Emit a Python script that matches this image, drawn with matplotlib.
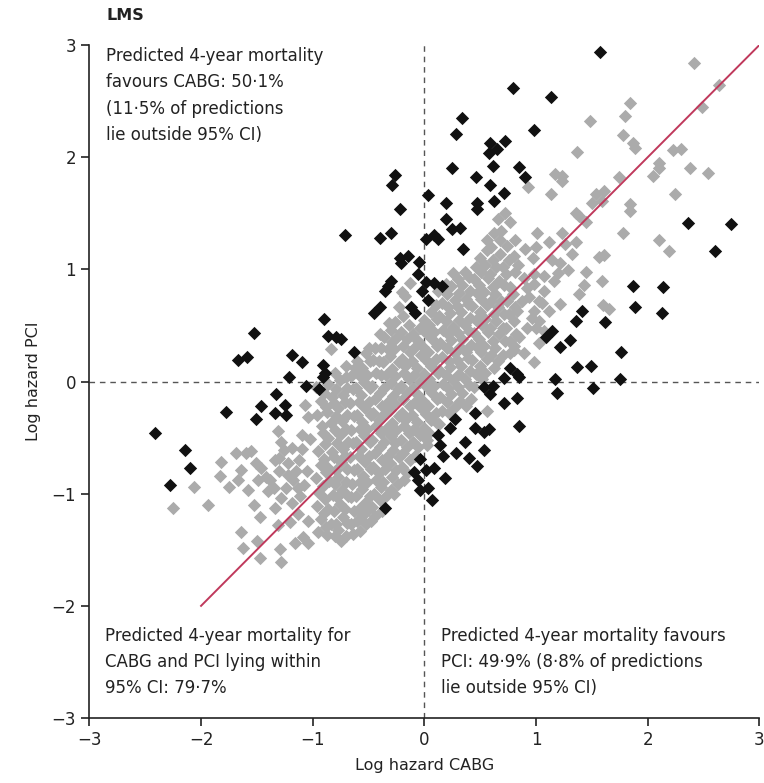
import numpy as np
import matplotlib
matplotlib.use("Agg")
import matplotlib.pyplot as plt

# predictions inside the 95% CI (grey)
grey_pts = [
    # lower-left tail
    (-2.25, -1.13), (-2.06, -0.94), (-1.94, -1.10), (-1.82, -0.72), (-1.83, -0.84),
    (-1.75, -0.94), (-1.69, -0.64), (-1.60, -0.64), (-1.64, -0.79), (-1.67, -0.88),
    (-1.51, -0.73), (-1.46, -0.77), (-1.42, -0.85), (-1.49, -0.88), (-1.38, -0.88),
    (-1.58, -0.97), (-1.64, -1.34), (-1.62, -1.48), (-1.50, -1.42), (-1.47, -1.57),
    (-1.29, -1.49), (-1.28, -1.61), (-1.53, -1.10), (-1.47, -1.21), (-1.34, -1.13),
    (-1.31, -0.44), (-1.28, -0.54), (-1.26, -0.61), (-1.19, -0.59), (-1.22, -0.73),
    (-1.18, -0.88), (-1.24, -0.95), (-1.11, -1.02), (-1.28, -1.04), (-1.19, -1.08),
    (-1.07, -0.21), (-1.04, -0.32), (-1.10, -0.48), (-1.02, -0.51), (-1.13, -1.18),
    (-1.04, -1.24), (-1.09, -1.39), (-1.16, -1.44), (-1.04, -1.44), (-1.12, -0.70),
    (-1.05, -0.80), (-1.08, -0.92), (-1.34, -0.70), (-1.40, -0.98), (-1.30, -0.80),
    (-1.30, -0.68), (-1.15, -0.80), (-1.13, -0.95), (-1.22, -0.83), (-1.35, -0.95),
    (-1.55, -0.62), (-1.20, -1.25), (-1.31, -1.28), (-1.10, -0.60),
    # dense centre
    (-0.97, -0.05), (-0.93, -0.17), (-0.96, -0.30), (-0.92, -0.40), (-0.95, -0.62),
    (-0.93, -0.74), (-0.97, -0.86), (-0.94, -0.99), (-0.96, -1.11), (-0.93, -1.23),
    (-0.95, -1.34),
    (-0.90, -0.10), (-0.88, -0.23), (-0.91, -0.46), (-0.89, -0.56), (-0.90, -0.69),
    (-0.88, -0.81), (-0.91, -0.93), (-0.89, -1.05), (-0.90, -1.17), (-0.88, -1.30),
    (-0.84, 0.29), (-0.86, -0.02), (-0.83, -0.14), (-0.87, -0.27), (-0.84, -0.37),
    (-0.86, -0.50), (-0.83, -0.63), (-0.87, -0.76), (-0.85, -0.89), (-0.82, -1.01),
    (-0.86, -1.14), (-0.84, -1.27), (-0.87, -1.37),
    (-0.80, 0.08), (-0.79, -0.07), (-0.81, -0.19), (-0.79, -0.31), (-0.80, -0.43),
    (-0.78, -0.55), (-0.81, -0.67), (-0.79, -0.79), (-0.80, -0.91), (-0.78, -1.03),
    (-0.81, -1.15), (-0.79, -1.27), (-0.80, -1.38),
    (-0.70, 0.14), (-0.76, 0.01), (-0.73, -0.12), (-0.77, -0.24), (-0.74, -0.35),
    (-0.76, -0.48), (-0.73, -0.60), (-0.75, -0.72), (-0.77, -0.85), (-0.74, -0.97),
    (-0.76, -1.09), (-0.73, -1.21), (-0.77, -1.32), (-0.75, -1.42),
    (-0.70, 0.04), (-0.69, -0.06), (-0.71, -0.18), (-0.69, -0.30), (-0.70, -0.42),
    (-0.68, -0.54), (-0.71, -0.66), (-0.69, -0.78), (-0.70, -0.90), (-0.68, -1.02),
    (-0.71, -1.14), (-0.69, -1.26), (-0.70, -1.38),
    (-0.62, 0.12), (-0.66, 0.05), (-0.64, -0.07), (-0.67, -0.19), (-0.63, -0.31),
    (-0.66, -0.43), (-0.64, -0.55), (-0.67, -0.67), (-0.63, -0.79), (-0.65, -0.91),
    (-0.66, -1.03), (-0.63, -1.15), (-0.66, -1.27), (-0.64, -1.36),
    (-0.60, 0.18), (-0.59, 0.06), (-0.61, -0.06), (-0.59, -0.18), (-0.60, -0.30),
    (-0.58, -0.42), (-0.61, -0.54), (-0.59, -0.66), (-0.60, -0.78), (-0.58, -0.90),
    (-0.61, -1.02), (-0.59, -1.14), (-0.60, -1.24), (-0.58, -1.33),
    (-0.52, 0.25), (-0.56, 0.12), (-0.54, 0.00), (-0.57, -0.12), (-0.53, -0.24),
    (-0.56, -0.36), (-0.54, -0.48), (-0.57, -0.60), (-0.53, -0.72), (-0.55, -0.84),
    (-0.56, -0.96), (-0.53, -1.08), (-0.55, -1.19), (-0.52, -1.27),
    (-0.50, 0.30), (-0.49, 0.18), (-0.51, 0.06), (-0.49, -0.06), (-0.50, -0.18),
    (-0.48, -0.30), (-0.51, -0.42), (-0.49, -0.54), (-0.50, -0.66), (-0.48, -0.78),
    (-0.51, -0.90), (-0.49, -1.02), (-0.50, -1.14), (-0.48, -1.24),
    (-0.44, 0.30), (-0.46, 0.19), (-0.43, 0.08), (-0.47, -0.04), (-0.44, -0.16),
    (-0.46, -0.28), (-0.43, -0.40), (-0.47, -0.52), (-0.44, -0.64), (-0.46, -0.76),
    (-0.43, -0.88), (-0.45, -1.00), (-0.47, -1.12), (-0.44, -1.20),
    (-0.40, 0.42), (-0.39, 0.30), (-0.41, 0.18), (-0.39, 0.06), (-0.40, -0.10),
    (-0.38, -0.22), (-0.41, -0.34), (-0.39, -0.46), (-0.40, -0.58), (-0.38, -0.70),
    (-0.41, -0.82), (-0.39, -0.94), (-0.40, -1.06), (-0.38, -1.15),
    (-0.32, 0.52), (-0.36, 0.40), (-0.33, 0.29), (-0.37, 0.17), (-0.34, 0.06),
    (-0.36, -0.06), (-0.33, -0.18), (-0.37, -0.30), (-0.34, -0.42), (-0.36, -0.54),
    (-0.33, -0.66), (-0.35, -0.78), (-0.37, -0.90), (-0.34, -1.02),
    (-0.30, 0.46), (-0.29, 0.35), (-0.31, 0.23), (-0.29, 0.11), (-0.30, -0.01),
    (-0.28, -0.13), (-0.31, -0.25), (-0.29, -0.37), (-0.30, -0.49), (-0.28, -0.61),
    (-0.31, -0.73), (-0.29, -0.85), (-0.30, -0.97),
    (-0.23, 0.66), (-0.26, 0.53), (-0.24, 0.41), (-0.27, 0.29), (-0.23, 0.17),
    (-0.26, 0.05), (-0.24, -0.07), (-0.27, -0.19), (-0.23, -0.31), (-0.25, -0.43),
    (-0.26, -0.55), (-0.23, -0.67), (-0.25, -0.79), (-0.24, -0.91), (-0.27, -1.00),
    (-0.20, 0.80), (-0.19, 0.58), (-0.21, 0.44), (-0.19, 0.32), (-0.20, 0.20),
    (-0.18, 0.08), (-0.21, -0.04), (-0.19, -0.16), (-0.20, -0.28), (-0.18, -0.40),
    (-0.21, -0.52), (-0.19, -0.64), (-0.20, -0.76), (-0.18, -0.88),
    (-0.13, 0.88), (-0.17, 0.76), (-0.14, 0.50), (-0.16, 0.38), (-0.13, 0.26),
    (-0.17, 0.14), (-0.14, 0.02), (-0.16, -0.10), (-0.13, -0.22), (-0.17, -0.34),
    (-0.14, -0.46), (-0.16, -0.58), (-0.13, -0.70), (-0.16, -0.82),
    (-0.10, 0.42), (-0.09, 0.30), (-0.11, 0.18), (-0.09, 0.06), (-0.10, -0.06),
    (-0.08, -0.18), (-0.11, -0.30), (-0.09, -0.42), (-0.10, -0.54), (-0.08, -0.66),
    (-0.04, 0.48), (-0.06, 0.36), (-0.03, 0.24), (-0.07, 0.12), (-0.04, 0.00),
    (-0.06, -0.12), (-0.03, -0.24), (-0.07, -0.36), (-0.04, -0.48), (-0.06, -0.58),
    (0.00, 0.55), (0.01, 0.43), (-0.01, 0.31), (0.01, 0.19), (0.00, 0.07),
    (0.02, -0.05), (-0.01, -0.17), (0.01, -0.29), (0.00, -0.41), (0.02, -0.52),
    (0.06, 0.62), (0.04, 0.50), (0.07, 0.38), (0.03, 0.26), (0.06, 0.14),
    (0.04, 0.02), (0.07, -0.10), (0.03, -0.22), (0.06, -0.34), (0.04, -0.46),
    (0.02, -0.57),
    (0.10, 0.68), (0.11, 0.56), (0.09, 0.44), (0.11, 0.32), (0.10, 0.20),
    (0.12, 0.08), (0.09, -0.04), (0.11, -0.16), (0.10, -0.28), (0.12, -0.38),
    (0.19, 0.87), (0.12, 0.81), (0.16, 0.70), (0.13, 0.58), (0.17, 0.46),
    (0.14, 0.34), (0.16, 0.22), (0.13, 0.10), (0.17, -0.02), (0.14, -0.14),
    (0.16, -0.26), (0.13, -0.38),
    (0.20, 0.78), (0.21, 0.66), (0.19, 0.54), (0.21, 0.42), (0.20, 0.30),
    (0.22, 0.18), (0.19, 0.06), (0.21, -0.06), (0.20, -0.18), (0.22, -0.28),
    (0.26, 0.97), (0.24, 0.85), (0.27, 0.73), (0.23, 0.61), (0.26, 0.49),
    (0.24, 0.37), (0.27, 0.25), (0.23, 0.13), (0.26, 0.01), (0.24, -0.11),
    (0.27, -0.23),
    (0.30, 0.91), (0.31, 0.79), (0.29, 0.67), (0.31, 0.55), (0.30, 0.43),
    (0.32, 0.31), (0.29, 0.19), (0.31, 0.07), (0.30, -0.05), (0.32, -0.17),
    (0.36, 0.98), (0.34, 0.86), (0.37, 0.74), (0.33, 0.62), (0.36, 0.50),
    (0.34, 0.38), (0.37, 0.26), (0.33, 0.14), (0.36, 0.02), (0.34, -0.10),
    (0.37, -0.22),
    (0.40, 0.93), (0.41, 0.81), (0.39, 0.69), (0.41, 0.57), (0.40, 0.45),
    (0.42, 0.33), (0.39, 0.21), (0.41, 0.09), (0.40, -0.03),
    (0.46, 1.02), (0.44, 0.91), (0.47, 0.79), (0.43, 0.67), (0.46, 0.55),
    (0.44, 0.43), (0.47, 0.31), (0.43, 0.19), (0.46, 0.07), (0.44, -0.05),
    (0.42, -0.16),
    (0.50, 1.10), (0.51, 0.98), (0.49, 0.86), (0.51, 0.74), (0.50, 0.62),
    (0.52, 0.50), (0.49, 0.38), (0.51, 0.26), (0.50, 0.14), (0.52, 0.02),
    (0.56, 1.26), (0.56, 1.17), (0.54, 1.04), (0.57, 0.92), (0.53, 0.80),
    (0.56, 0.68), (0.54, 0.56), (0.57, 0.44), (0.53, 0.32), (0.56, 0.20),
    (0.54, 0.08), (0.56, -0.26),
    (0.60, 1.20), (0.61, 1.08), (0.59, 0.96), (0.61, 0.84), (0.60, 0.72),
    (0.62, 0.60), (0.59, 0.48), (0.61, 0.36), (0.60, 0.24), (0.62, 0.12),
    (0.62, 1.32), (0.69, 1.34), (0.68, 1.26), (0.68, 1.14), (0.64, 1.02),
    (0.67, 0.90), (0.63, 0.78), (0.66, 0.66), (0.64, 0.54), (0.67, 0.42),
    (0.63, 0.30), (0.66, 0.18), (0.66, 1.45),
    (0.70, 1.02), (0.71, 0.86), (0.69, 0.72), (0.71, 0.60), (0.70, 0.48),
    (0.72, 0.36), (0.70, 0.24),
    (0.72, 1.50), (0.77, 1.42), (0.74, 1.21), (0.76, 1.08), (0.73, 0.96),
    (0.77, 0.84), (0.74, 0.72), (0.76, 0.60), (0.73, 0.48), (0.77, 0.36),
    (0.77, 0.25),
    (0.80, 1.12), (0.81, 0.98), (0.79, 0.78), (0.81, 0.66), (0.80, 0.54),
    (0.82, 0.42), (0.80, 0.32),
    (0.81, 1.26), (0.90, 1.18), (0.89, 0.92), (0.84, 1.04), (0.92, 0.83),
    (0.87, 0.72), (0.94, 0.75), (0.83, 0.63), (0.96, 0.57), (0.92, 0.48),
    (0.85, 0.40), (0.89, 0.25), (0.80, 0.28), (0.93, 1.73),
    (0.98, 0.96), (1.01, 1.32), (0.98, 0.87), (0.98, 0.63), (1.00, 0.48),
    (1.03, 0.34), (0.98, 0.17), (1.03, 0.72), (1.07, 0.81), (1.07, 0.94),
    (1.05, 0.70), (1.03, 0.54), (1.07, 0.45), (0.97, 1.10), (1.00, 1.20),
    # sparse upper right
    (1.12, 1.24), (1.23, 1.32), (1.26, 1.23), (1.36, 1.24), (1.32, 1.14),
    (1.14, 1.08), (1.21, 1.06), (1.29, 0.99), (1.20, 0.97), (1.45, 0.98),
    (1.59, 0.90), (1.43, 0.86), (1.38, 0.78), (1.21, 0.69), (1.12, 0.63),
    (1.60, 0.68), (1.65, 0.65), (1.56, 1.11), (1.61, 1.13), (1.36, 1.50),
    (1.45, 1.42), (1.84, 1.52), (1.78, 1.32), (2.10, 1.26), (2.19, 1.16),
    (1.16, 0.90),
    (2.54, 3.18), (2.41, 2.84), (2.64, 2.64), (2.49, 2.45), (1.84, 2.48),
    (1.80, 2.37), (1.48, 2.32), (1.78, 2.20), (1.87, 2.13), (1.89, 2.08),
    (1.37, 2.05), (2.23, 2.06), (2.30, 2.07), (2.10, 1.95), (2.05, 1.83),
    (2.10, 1.90), (2.38, 1.90), (2.54, 1.86), (1.23, 1.83), (1.23, 1.79),
    (1.74, 1.82), (1.13, 1.67), (2.24, 1.67), (1.54, 1.67), (1.61, 1.70),
    (1.50, 1.59), (1.59, 1.61), (1.84, 1.58), (1.38, 1.48), (1.17, 1.85),
]

# predictions outside the 95% CI (black)
black_pts = [
    (1.50, 3.15), (1.57, 2.94), (0.79, 2.62), (1.13, 2.54), (0.34, 2.35),
    (0.28, 2.21), (0.98, 2.24), (0.59, 2.13), (0.72, 2.14), (0.58, 2.04),
    (0.65, 2.07), (0.25, 1.90), (0.61, 1.92), (0.46, 1.82), (0.85, 1.91),
    (0.90, 1.82), (-0.26, 1.84), (-0.29, 1.75), (0.59, 1.75), (0.71, 1.68),
    (0.62, 1.61), (0.03, 1.66), (0.19, 1.59), (0.47, 1.59), (0.47, 1.54),
    (-0.22, 1.54), (0.19, 1.45), (0.25, 1.36), (0.32, 1.37), (0.01, 1.27),
    (0.09, 1.31), (0.12, 1.27), (0.35, 1.18), (-0.22, 1.10), (-0.15, 1.12),
    (-0.21, 1.06), (-0.05, 1.07), (-0.06, 0.96), (-0.30, 0.90), (-0.35, 0.81),
    (-0.33, 0.85), (0.01, 0.89), (0.09, 0.88), (0.16, 0.85), (-0.02, 0.81),
    (0.03, 0.73), (-0.40, 0.66), (-0.45, 0.61), (-0.12, 0.66), (-0.08, 0.61),
    (-0.63, 0.26), (-0.71, 1.31), (-0.40, 1.28), (-0.30, 1.32),
    (-0.90, 0.56), (-1.53, 0.43), (-0.86, 0.41), (-0.79, 0.40), (-0.75, 0.38),
    (-1.67, 0.19), (-1.59, 0.22), (-1.19, 0.24), (-1.10, 0.17), (-0.91, 0.15),
    (-0.89, 0.08), (-0.91, 0.04), (-1.21, 0.04), (-1.06, -0.04), (-0.94, -0.07),
    (-1.33, -0.11), (-1.25, -0.21), (-1.46, -0.22), (-1.78, -0.27), (-1.51, -0.33),
    (-1.34, -0.28), (-1.24, -0.30), (-2.41, -0.46), (-2.14, -0.61), (-2.10, -0.77),
    (-2.28, -0.92),
    (2.36, 1.41), (2.75, 1.40), (2.60, 1.16), (1.87, 0.85), (2.14, 0.84),
    (1.89, 0.66), (2.13, 0.61), (1.41, 0.63), (1.36, 0.54), (1.62, 0.53),
    (1.14, 0.45), (1.09, 0.40), (1.30, 0.37), (1.21, 0.31), (1.76, 0.26),
    (1.37, 0.13), (1.49, 0.14), (1.17, 0.02), (1.19, -0.10), (1.51, -0.06),
    (1.75, 0.02),
    (0.77, 0.12), (0.83, 0.07), (0.71, 0.03), (0.85, 0.04), (0.53, -0.05),
    (0.61, -0.04), (0.59, -0.11), (0.71, -0.19), (0.83, -0.15), (0.85, -0.40),
    (0.45, -0.28), (0.27, -0.33), (0.23, -0.41), (0.45, -0.41), (0.53, -0.45),
    (0.58, -0.42), (0.12, -0.48), (0.14, -0.57), (0.36, -0.54), (0.28, -0.64),
    (0.17, -0.66), (0.53, -0.61), (0.40, -0.68), (0.47, -0.75), (-0.04, -0.69),
    (-0.09, -0.81), (0.01, -0.79), (0.09, -0.77), (0.18, -0.86), (-0.06, -0.88),
    (-0.04, -0.97), (0.03, -0.95), (0.07, -1.06), (-0.35, -1.13),
]

line_end = [-2, 3]

top_left_txt = "Predicted 4-year mortality\nfavours CABG: 50·1%\n(11·5% of predictions\nlie outside 95% CI)"
bot_left_txt = "Predicted 4-year mortality for\nCABG and PCI lying within\n95% CI: 79·7%"
bot_right_txt = "Predicted 4-year mortality favours\nPCI: 49·9% (8·8% of predictions\nlie outside 95% CI)"

grey = np.array(grey_pts)
black = np.array(black_pts)

fig = plt.figure(figsize=(7.64, 7.83), dpi=100)
ax = fig.add_axes([0.117, 0.083, 0.877, 0.8595])

ax.axhline(0, color="#555555", lw=1, ls=(0, (4, 3.5)), zorder=1)
ax.axvline(0, color="#555555", lw=1, ls=(0, (4, 3.5)), zorder=1)

ax.scatter(grey[:, 0], grey[:, 1], marker="D", s=46, color="#ababab",
           linewidths=0, zorder=2)
ax.plot(line_end, line_end, color="#c0395c", lw=1.4, zorder=3)
ax.scatter(black[:, 0], black[:, 1], marker="D", s=46, color="#111111",
           linewidths=0, zorder=4)

ax.set_xlim(-3, 3)
ax.set_ylim(-3, 3)
ax.set_xticks(range(-3, 4))
ax.set_yticks(range(-3, 4))
ax.set_xticklabels(["\u22123", "\u22122", "\u22121", "0", "1", "2", "3"])
ax.set_yticklabels(["\u22123", "\u22122", "\u22121", "0", "1", "2", "3"])
ax.tick_params(direction="out", length=6, width=1.2, labelsize=12, colors="#222222")
for s in ["top", "right"]:
    ax.spines[s].set_visible(False)
for s in ["left", "bottom"]:
    ax.spines[s].set_linewidth(1.2)
    ax.spines[s].set_color("#222222")

ax.set_xlabel("Log hazard CABG", fontsize=11.5, color="#222222", labelpad=6)
ax.set_ylabel("Log hazard PCI", fontsize=11.5, color="#222222", labelpad=8)

kw = dict(fontsize=12, color="#222222", va="top", ha="left", linespacing=1.58)
ax.text(-2.85, 2.98, top_left_txt, **kw)
ax.text(-2.86, -2.19, bot_left_txt, **kw)
ax.text(0.15, -2.19, bot_right_txt, **kw)

fig.text(0.14, 0.98, "LMS", fontsize=11.5, fontweight="bold", color="#222222",
         ha="left", va="center")

fig.savefig("out.png", dpi=100)
